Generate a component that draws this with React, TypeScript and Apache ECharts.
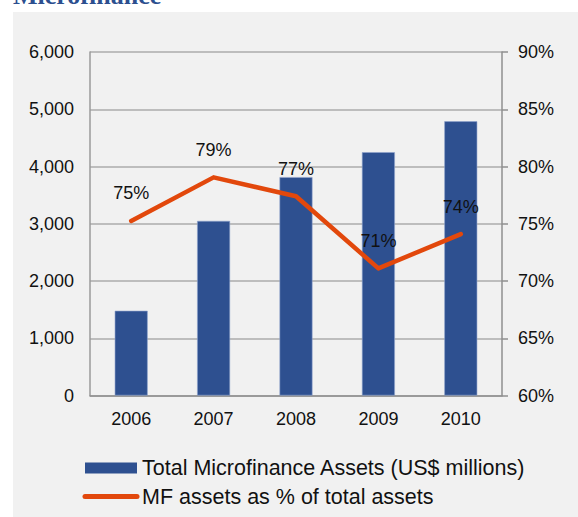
import React, { useEffect, useRef } from "react";
import * as echarts from "echarts";

const years = ["2006", "2007", "2008", "2009", "2010"];
const assets = [1480, 3050, 3815, 4250, 4790];
const pctOfTotal = [75.25, 79.05, 77.4, 71.1, 74.1];
const pctLabels = ["75%", "79%", "77%", "71%", "74%"];
const barName = "Total Microfinance Assets (US$ millions)";
const lineName = "MF assets as % of total assets";
const titleText = "Microfinance";

const FONT = "'Liberation Sans', Arial, sans-serif";

export default function App() {
  const ref = useRef<HTMLDivElement>(null);
  useEffect(() => {
    if (!ref.current) return;
    const chart = echarts.init(ref.current, undefined, { renderer: "svg" });
    chart.setOption({
      animation: false,
      backgroundColor: "#ffffff",
      textStyle: { fontFamily: FONT },
      graphic: [
        {
          type: "rect",
          z: -10,
          silent: true,
          shape: { x: 13, y: 12, width: 600, height: 600 },
          style: { fill: "#f1f1f1" },
        },
        {
          type: "text",
          x: 13,
          y: -5,
          style: {
            text: titleText,
            fontFamily: "'Liberation Serif', 'Times New Roman', serif",
            fontWeight: "bold",
            fontSize: 26,
            fill: "#2c4f8f",
            verticalAlign: "middle",
            align: "left",
          },
        },
      ],
      grid: { left: 90, right: 76, top: 52, bottom: 121.5, containLabel: false },
      legend: {
        orient: "vertical",
        left: 82.5,
        top: 457,
        padding: 0,
        itemWidth: 52,
        itemHeight: 11,
        itemGap: 6.5,
        textStyle: { fontSize: 21.5, color: "#111", fontFamily: FONT },
        data: [
          { name: barName, icon: "rect", itemStyle: { borderWidth: 0 } },
          {
            name: lineName,
            itemStyle: { opacity: 0 },
            lineStyle: { width: 5, cap: "round", color: "#e2480c" },
          },
        ],
      },
      xAxis: {
        type: "category",
        data: years,
        axisLine: { show: true, lineStyle: { color: "#8f8f8f", width: 1.5 } },
        axisTick: { show: false },
        axisLabel: { fontSize: 18, color: "#111", margin: 14, fontFamily: FONT },
      },
      yAxis: [
        {
          type: "value",
          min: 0,
          max: 6000,
          interval: 1000,
          axisLine: { show: true, lineStyle: { color: "#9a9a9a", width: 1.5 } },
          axisTick: { show: false },
          splitLine: { show: true, lineStyle: { color: "#ababab", width: 1.5 } },
          axisLabel: {
            fontSize: 18,
            color: "#111",
            margin: 16,
            fontFamily: FONT,
            formatter: (v: number) => v.toLocaleString("en-US"),
          },
        },
        {
          type: "value",
          position: "right",
          min: 60,
          max: 90,
          interval: 5,
          axisLine: { show: true, lineStyle: { color: "#8f8f8f", width: 1.5 } },
          axisTick: { show: true, inside: false, length: 6, lineStyle: { color: "#8f8f8f", width: 1.5 } },
          splitLine: { show: false },
          axisLabel: {
            fontSize: 18,
            color: "#111",
            margin: 16,
            fontFamily: FONT,
            formatter: "{value}%",
          },
        },
      ],
      series: [
        {
          name: barName,
          type: "bar",
          data: assets,
          barWidth: "40%",
          itemStyle: { color: "#2e5090", borderColor: "#8fa3cc", borderWidth: 0.6 },
        },
        {
          name: lineName,
          type: "line",
          yAxisIndex: 1,
          data: pctOfTotal,
          symbol: "none",
          z: 3,
          lineStyle: { color: "#e2480c", width: 4.5, cap: "round", join: "round" },
          itemStyle: { color: "#e2480c" },
        },
        {
          name: "labels",
          type: "scatter",
          yAxisIndex: 1,
          data: pctOfTotal,
          symbolSize: 1,
          z: 4,
          silent: true,
          itemStyle: { color: "rgba(0,0,0,0)", opacity: 1 },
          label: {
            show: true,
            position: "top",
            distance: 18,
            fontSize: 18,
            color: "#111",
            opacity: 1,
            fontFamily: FONT,
            formatter: (p: any) => pctLabels[p.dataIndex],
          },
        },
      ],
    });
    return () => chart.dispose();
  }, []);
  return (
    <div
      ref={ref}
      style={{ position: "fixed", left: 0, top: 0, width: 578, height: 517 }}
    />
  );
}
